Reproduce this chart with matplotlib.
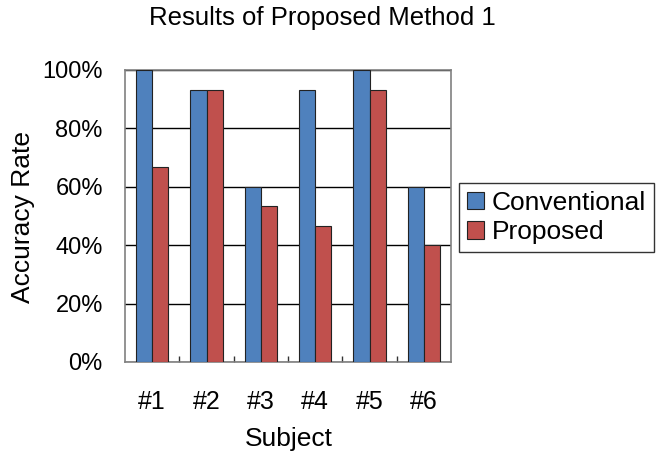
import matplotlib.pyplot as plt
import numpy as np

plt.rcParams['font.family'] = ['Liberation Sans', 'DejaVu Sans']

sujetos = ['#1', '#2', '#3', '#4', '#5', '#6']
convencional = [100, 93.3, 60, 93.3, 100, 60]
propuesto = [66.7, 93.3, 53.3, 46.7, 93.3, 40]
marcas_y = [0, 20, 40, 60, 80, 100]

W, H = 670, 457
fig = plt.figure(figsize=(W / 100, H / 100), dpi=100)
ax = fig.add_axes([125 / W, 1 - 362 / H, 326 / W, 292 / H])

x = np.arange(len(sujetos))
ancho = 0.295
ax.bar(x - ancho / 2, convencional, ancho, color='#4F81BD', edgecolor='#222222',
       linewidth=0.8, label='Conventional', zorder=3)
ax.bar(x + ancho / 2, propuesto, ancho, color='#C0504D', edgecolor='#222222',
       linewidth=0.8, label='Proposed', zorder=3)

ax.set_xlim(-0.5, len(sujetos) - 0.5)
ax.set_ylim(0, 100)
ax.set_yticks(marcas_y)
ax.set_yticklabels([f'{v}%' for v in marcas_y], fontsize=17)
ax.set_xticks(x)
ax.set_xticklabels(sujetos, fontsize=18)
ax.tick_params(axis='x', length=0, pad=20)
ax.tick_params(axis='y', length=0, pad=16)

# marcas pequeñas entre sujetos, hacia adentro
ax.set_xticks(np.arange(0.5, len(sujetos) - 0.5, 1), minor=True)
ax.tick_params(axis='x', which='minor', direction='in', length=4, width=1, color='#333333')

ax.grid(axis='y', color='black', linewidth=1, zorder=0)
for lado in ax.spines.values():
    lado.set_color('#808080')
    lado.set_linewidth(1.2)

fig.text(322 / W, 1 - 25 / H, 'Results of Proposed Method 1', fontsize=18.5,
         ha='center', va='baseline')
fig.text(289 / W, 1 - 446 / H, 'Subject', fontsize=19, ha='center', va='baseline')
fig.text(23 / W, 1 - 217 / H, 'Accuracy Rate', fontsize=19, rotation=90,
         ha='center', va='center')

leg = ax.legend(loc='upper left', bbox_to_anchor=(459 / W, 1 - 183 / H),
                bbox_transform=fig.transFigure, fontsize=19,
                frameon=True, fancybox=False, handlelength=0.65, handleheight=0.65,
                handletextpad=0.3, borderpad=0.3, labelspacing=0.2, borderaxespad=0)
leg.get_frame().set_edgecolor('black')
leg.get_frame().set_linewidth(1)

plt.savefig('out.png', dpi=100)
